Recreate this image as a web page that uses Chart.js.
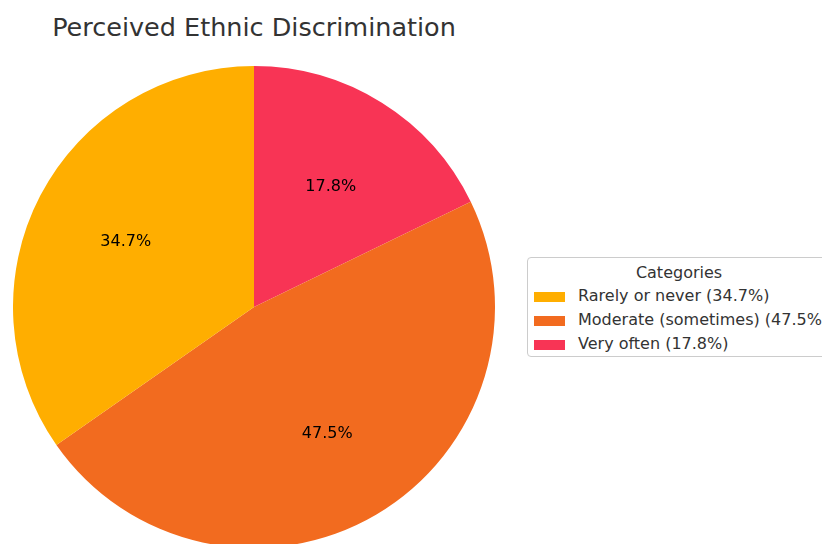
<!DOCTYPE html>
<html>
<head>
    <title>Perceived Ethnic Discrimination</title>
    <script src="https://cdn.jsdelivr.net/npm/chart.js"></script>
    <style>
        body {
            margin: 0;
            width: 822px;
            height: 544px;
            overflow: hidden;
            background: #ffffff;
            font-family: "DejaVu Sans", sans-serif;
            position: relative;
        }
        .title {
            position: absolute;
            left: 0;
            width: 508px;
            top: 12px;
            text-align: center;
            font-size: 25.5px;
            color: #333333;
        }
        .pie-box {
            position: absolute;
            left: 13px;
            top: 66px;
            width: 482px;
            height: 482px;
        }
        .legend {
            position: absolute;
            left: 527px;
            top: 257px;
            width: 304px;
            height: 100px;
            border: 1px solid #cccccc;
            border-radius: 4px;
            box-sizing: border-box;
            background: #ffffff;
            color: #333333;
            font-size: 16px;
        }
        .legend-title {
            text-align: center;
            margin-top: 5px;
            height: 22px;
        }
        .legend-row {
            position: relative;
            height: 24px;
            white-space: nowrap;
        }
        .legend-row span.swatch {
            position: absolute;
            left: 6px;
            top: 7px;
            width: 31px;
            height: 10px;
        }
        .legend-row span.text {
            position: absolute;
            left: 50px;
            top: 1px;
        }
    </style>
</head>
<body>
    <div class="title">Perceived Ethnic Discrimination</div>
    <div class="pie-box"><canvas id="pieChart" width="482" height="482"></canvas></div>
    <div class="legend" id="legend">
        <div class="legend-title">Categories</div>
    </div>
    <script>
        const categories = ['Rarely or never', 'Moderate (sometimes)', 'Very often'];
        const shares = [34.7, 47.5, 17.8];
        const colors = ['#FFAE00', '#F26B1F', '#F83455'];

        // legend rows, in category order
        const legend = document.getElementById('legend');
        categories.forEach((name, i) => {
            const row = document.createElement('div');
            row.className = 'legend-row';
            row.innerHTML = '<span class="swatch" style="background:' + colors[i] + '"></span>' +
                '<span class="text">' + name + ' (' + shares[i].toFixed(1) + '%)</span>';
            legend.appendChild(row);
        });

        // slices run counter-clockwise from the top, so feed Chart.js the reversed order
        const drawOrder = [2, 1, 0];

        // percentage text inside each slice, at 0.6 of the radius
        const sliceLabels = {
            id: 'sliceLabels',
            afterDatasetsDraw(chart) {
                const ctx = chart.ctx;
                const meta = chart.getDatasetMeta(0);
                ctx.save();
                ctx.font = '16px "DejaVu Sans"';
                ctx.fillStyle = '#000000';
                ctx.textAlign = 'center';
                ctx.textBaseline = 'middle';
                meta.data.forEach((arc, i) => {
                    const mid = (arc.startAngle + arc.endAngle) / 2;
                    const r = arc.outerRadius * 0.6;
                    const x = arc.x + Math.cos(mid) * r;
                    const y = arc.y + Math.sin(mid) * r + 2;
                    ctx.fillText(chart.data.datasets[0].data[i].toFixed(1) + '%', x, y);
                });
                ctx.restore();
            }
        };

        const pieCtx = document.getElementById('pieChart').getContext('2d');
        const pieChart = new Chart(pieCtx, {
            type: 'pie',
            data: {
                labels: drawOrder.map(i => categories[i]),
                datasets: [{
                    data: drawOrder.map(i => shares[i]),
                    backgroundColor: drawOrder.map(i => colors[i]),
                    borderWidth: 0
                }]
            },
            options: {
                responsive: false,
                animation: false,
                layout: { padding: 0 },
                plugins: {
                    legend: { display: false },
                    tooltip: { enabled: false }
                }
            },
            plugins: [sliceLabels]
        });
    </script>
</body>
</html>
